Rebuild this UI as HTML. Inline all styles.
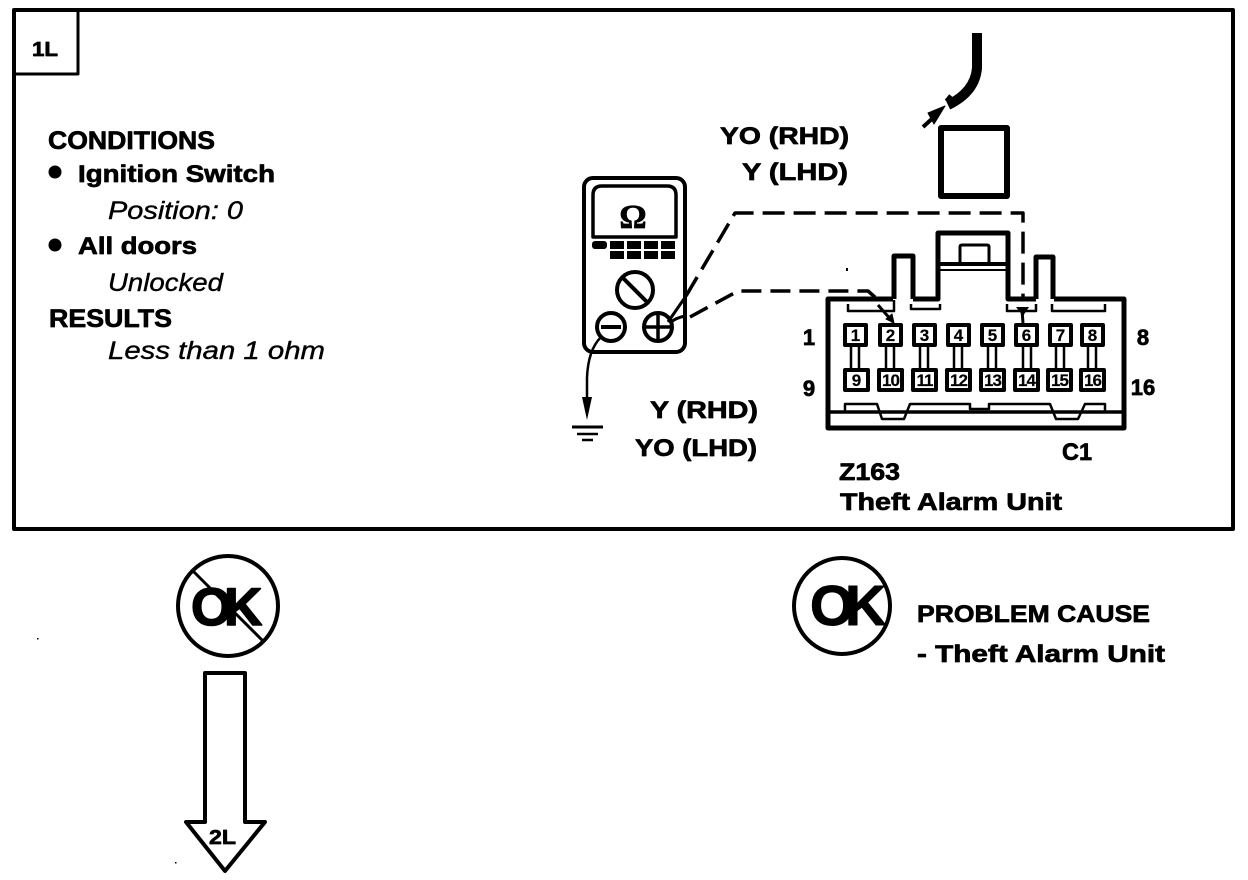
<!DOCTYPE html>
<html><head><meta charset="utf-8"><style>
html,body{margin:0;padding:0;background:#fff;width:1248px;height:880px;overflow:hidden}
svg{display:block}
text{font-family:"Liberation Sans",sans-serif;fill:#000;stroke:#000;stroke-width:.7}
.b{font-weight:bold;font-size:25px}
.s{font-weight:bold;font-size:24px}
.i{font-style:italic;font-size:25px;stroke-width:.4}
.p{font-weight:bold;font-size:17px;text-anchor:middle;stroke-width:.2}
.l{font-weight:bold;font-size:22px;text-anchor:middle}
</style></head><body>
<svg width="1248" height="880" viewBox="0 0 1248 880" fill="none" stroke="#000" stroke-linejoin="round">
<!-- frame -->
<rect x="14" y="10" width="1219" height="519" stroke-width="4"/>
<path d="M14 74H78V10" stroke-width="3"/>
<text x="32" y="56" font-size="20" font-weight="bold" textLength="26" lengthAdjust="spacingAndGlyphs">1L</text>

<!-- left text -->
<text class="b" x="48" y="149" textLength="167" lengthAdjust="spacingAndGlyphs">CONDITIONS</text>
<circle cx="55" cy="172" r="6.5" fill="#000" stroke="none"/>
<text class="s" x="78" y="182" textLength="197" lengthAdjust="spacingAndGlyphs">Ignition Switch</text>
<text class="i" x="108" y="219" textLength="135" lengthAdjust="spacingAndGlyphs">Position: 0</text>
<circle cx="55" cy="245" r="6.5" fill="#000" stroke="none"/>
<text class="s" x="78" y="254" textLength="119" lengthAdjust="spacingAndGlyphs">All doors</text>
<text class="i" x="108" y="291" textLength="115" lengthAdjust="spacingAndGlyphs">Unlocked</text>
<text class="b" x="49" y="327" textLength="123" lengthAdjust="spacingAndGlyphs">RESULTS</text>
<text class="i" x="108" y="359" textLength="217" lengthAdjust="spacingAndGlyphs">Less than 1 ohm</text>

<!-- top wire and box -->
<path d="M977 33V68Q975 92 948 105" stroke-width="10"/>
<path d="M947 97L953 102" stroke-width="7"/>
<path d="M923 127L934 117" stroke-width="4"/>
<path d="M945 106L928 113L934 124Z" fill="#000" stroke-width="1"/>
<rect x="941" y="128" width="66" height="68" stroke-width="6"/>

<text class="s" x="720" y="144" textLength="129" lengthAdjust="spacingAndGlyphs">YO (RHD)</text>
<text class="s" x="742" y="180" textLength="106" lengthAdjust="spacingAndGlyphs">Y (LHD)</text>
<text class="s" x="650" y="418" textLength="108" lengthAdjust="spacingAndGlyphs">Y (RHD)</text>
<text class="s" x="635" y="456" textLength="122" lengthAdjust="spacingAndGlyphs">YO (LHD)</text>

<!-- meter -->
<rect x="584" y="178" width="101" height="174" rx="9" stroke-width="4"/>
<path d="M593 237V195Q593 186 602 186H667Q676 186 676 195V237Z" stroke-width="3.5"/>
<text x="633" y="228" font-size="34" font-weight="bold" text-anchor="middle" style="font-family:'Liberation Serif',serif">Ω</text>
<g fill="#000" stroke="none">
<rect x="592" y="241" width="15" height="8" rx="3"/><rect x="610" y="241" width="14" height="8"/><rect x="627" y="241" width="14" height="8"/><rect x="644" y="241" width="14" height="8"/><rect x="661" y="241" width="14" height="8"/>
<rect x="610" y="251" width="14" height="8"/><rect x="627" y="251" width="14" height="8"/><rect x="644" y="251" width="14" height="8"/><rect x="661" y="251" width="14" height="8"/>
</g>
<circle cx="635" cy="290" r="18" stroke-width="4"/>
<path d="M622 277L648 303" stroke-width="4"/>
<circle cx="611" cy="327" r="14" stroke-width="4"/>
<path d="M601 327H621" stroke-width="4"/>
<circle cx="658" cy="327" r="14" stroke-width="4"/>
<path d="M644 327H672M658 313V341" stroke-width="3.5"/>

<!-- ground lead -->
<path d="M601 337Q588 350 587 378V405" stroke-width="2.5"/>
<path d="M582 397L592 397L587 420Z" fill="#000" stroke="none"/>
<path d="M572 427H603" stroke-width="3"/>
<path d="M577 434H598" stroke-width="2.5"/>
<path d="M582 440H593" stroke-width="2.5"/>

<!-- dashed probes -->
<path d="M668 322L686 296" stroke-width="3"/>
<path d="M686 296L735 213H1023V300" stroke-width="3.5" stroke-dasharray="22 9"/>
<path d="M670 323Q675 318 685 316" stroke-width="3"/>
<path d="M690 317L738 291H868L876 298" stroke-width="3.5" stroke-dasharray="20 9"/>
<path d="M878 305L893 322" stroke-width="3"/>
<path d="M886 319L894 323L892 314Z" fill="#000" stroke-width="1"/>
<path d="M1022 310L1023 323" stroke-width="3"/>
<path d="M1016 307H1029L1023 316Z" fill="#000" stroke="none"/>

<!-- connector body -->
<path d="M893 299H828V428H1124V299H1054" stroke-width="5"/>
<path d="M913 299H938V233H1008V299H1036" stroke-width="5"/>
<path d="M894 299V256H913V299" stroke-width="5"/>
<path d="M1036 299V257H1053V299" stroke-width="5"/>
<path d="M940 264H1006" stroke-width="4"/>
<path d="M940 270H1006" stroke-width="2"/>
<path d="M960 262V247Q960 245 962 245H987Q989 245 989 247V262" stroke-width="3"/>
<path d="M848 304V311H894V300" stroke-width="2.5"/>
<path d="M911 304V309H940V304" stroke-width="2.5"/>
<path d="M1007 304V311H1036V304" stroke-width="2.5"/>
<path d="M1052 304V311H1105V304" stroke-width="2.5"/>
<path d="M828 412H1124" stroke-width="3.5"/>
<path d="M845 412V404H877L882 419H904L910 404H970V409H989V404H1050L1056 419H1078L1085 404H1105V412" stroke-width="2.5"/>

<!-- pins -->
<g stroke-width="2.5">
<path d="M851 346V369M859 346V369M886 346V369M894 346V369M920 346V369M928 346V369M954 346V369M962 346V369M988 346V369M996 346V369M1023 346V369M1031 346V369M1056 346V369M1064 346V369M1088 346V369M1096 346V369"/>
</g>
<g stroke-width="4" fill="#fff">
<rect x="845" y="325" width="21" height="20"/><rect x="880" y="325" width="21" height="20"/><rect x="914" y="325" width="21" height="20"/><rect x="948" y="325" width="21" height="20"/><rect x="982" y="325" width="21" height="20"/><rect x="1016" y="325" width="21" height="20"/><rect x="1050" y="325" width="21" height="20"/><rect x="1082" y="325" width="21" height="20"/>
<rect x="845" y="370" width="23" height="20"/><rect x="879" y="370" width="23" height="20"/><rect x="913" y="370" width="23" height="20"/><rect x="947" y="370" width="23" height="20"/><rect x="981" y="370" width="23" height="20"/><rect x="1015" y="370" width="23" height="20"/><rect x="1048" y="370" width="23" height="20"/><rect x="1081" y="370" width="23" height="20"/>
</g>
<text class="p" x="855.5" y="341">1</text><text class="p" x="890.5" y="341">2</text><text class="p" x="924.5" y="341">3</text><text class="p" x="958.5" y="341">4</text><text class="p" x="992.5" y="341">5</text><text class="p" x="1026.5" y="341">6</text><text class="p" x="1060.5" y="341">7</text><text class="p" x="1092.5" y="341">8</text>
<text class="p" x="856.5" y="386">9</text>
<g style="letter-spacing:-1px"><text class="p" x="890.5" y="386">10</text><text class="p" x="924.5" y="386">11</text><text class="p" x="958.5" y="386">12</text><text class="p" x="992.5" y="386">13</text><text class="p" x="1026.5" y="386">14</text><text class="p" x="1059.5" y="386">15</text><text class="p" x="1092.5" y="386">16</text></g>

<text class="l" x="809" y="345">1</text>
<text class="l" x="1143" y="345">8</text>
<text class="l" x="809" y="396">9</text>
<text class="l" x="1143" y="395">16</text>
<text class="s" x="1062" y="460" textLength="30" lengthAdjust="spacingAndGlyphs">C1</text>
<text class="s" x="839" y="480" textLength="61" lengthAdjust="spacingAndGlyphs">Z163</text>
<text class="s" x="840" y="510" textLength="222" lengthAdjust="spacingAndGlyphs">Theft Alarm Unit</text>

<!-- NOT OK -->
<circle cx="228" cy="606" r="50" stroke-width="4"/>
<text x="191 224" y="625" font-size="53" font-weight="bold" style="stroke-width:1.5">OK</text>
<path d="M193 571L263 641" stroke-width="3"/>

<!-- down arrow -->
<path d="M205 822V673H245V822H265L225 871L186 822Z" stroke-width="4"/>
<text x="209" y="844" font-size="20" font-weight="bold" textLength="27" lengthAdjust="spacingAndGlyphs">2L</text>

<!-- OK -->
<circle cx="842" cy="606" r="48" stroke-width="4"/>
<text x="810 845" y="625" font-size="57" font-weight="bold" style="stroke-width:1">OK</text>
<text class="s" x="917" y="622" textLength="233" lengthAdjust="spacingAndGlyphs">PROBLEM CAUSE</text>
<text class="s" x="917" y="662" textLength="248" lengthAdjust="spacingAndGlyphs">- Theft Alarm Unit</text>

<!-- specks -->
<g fill="#000" stroke="none">
<rect x="846" y="268" width="2" height="3"/>
<rect x="37" y="638" width="1.5" height="1.5"/>
<rect x="175" y="862" width="1.5" height="1.5"/>
</g>
</svg>
</body></html>
